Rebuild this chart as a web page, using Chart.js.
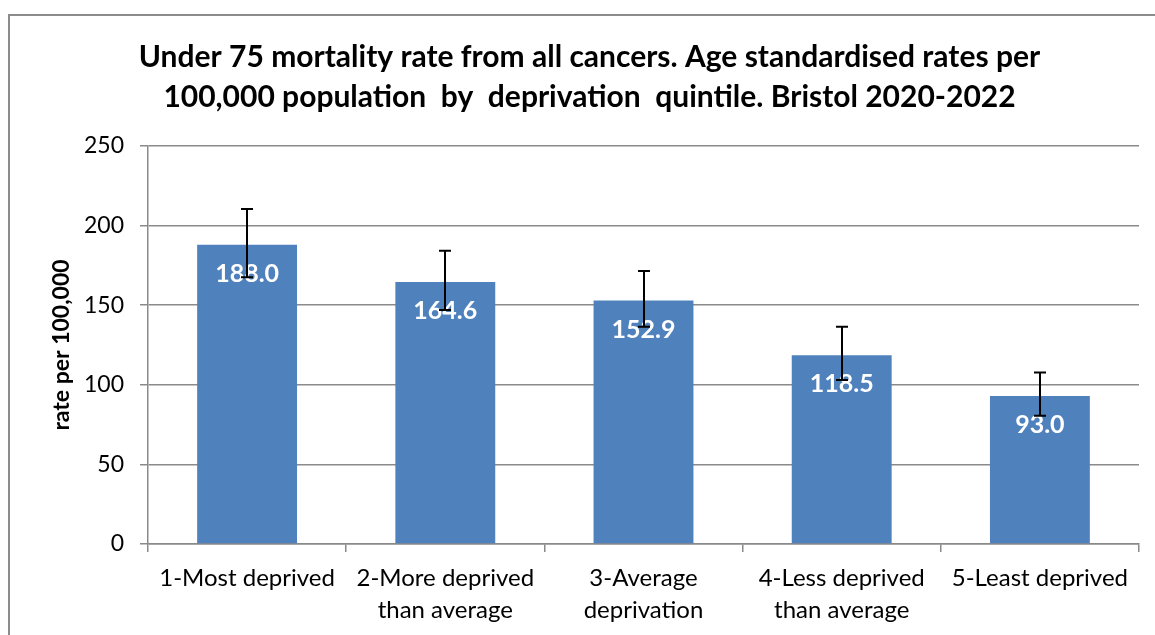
<!DOCTYPE html>
<html>
<head>
<meta charset="utf-8">
<script src="https://cdn.jsdelivr.net/npm/chart.js@4"></script>
<style>
  html, body { margin: 0; padding: 0; background: #fff; }
  #wrap { width: 1155px; height: 635px; position: relative; }
</style>
</head>
<body>
<div id="wrap"><canvas id="cancer-rate"></canvas></div>
<script>
const quintiles = [
  ['1-Most deprived'],
  ['2-More deprived', 'than average'],
  ['3-Average', 'deprivation'],
  ['4-Less deprived', 'than average'],
  ['5-Least deprived']
];
const rates = [188.0, 164.6, 152.9, 118.5, 93.0];
const upperCI = [210.4, 184.2, 171.5, 136.5, 107.8];
const lowerCI = [167.5, 147.0, 136.5, 103.0, 80.6];
const yTicks = [0, 50, 100, 150, 200, 250];

const FONT = 'Lato, "Open Sans", sans-serif';
const gridColor = '#8a8a8a';

// outer frame like the excel chart border
const frame = {
  id: 'frame',
  beforeDraw(chart) {
    const ctx = chart.ctx;
    ctx.save();
    ctx.fillStyle = '#fff';
    ctx.fillRect(0, 0, chart.width, chart.height);
    ctx.strokeStyle = '#8c8c8c';
    ctx.lineWidth = 2;
    ctx.strokeRect(9, 15, chart.width + 20, chart.height + 20);
    ctx.restore();
  }
};

// value labels inside bars + error bars on top
const barExtras = {
  id: 'barExtras',
  afterDatasetsDraw(chart) {
    const ctx = chart.ctx;
    const x = chart.scales.x;
    const y = chart.scales.y;
    ctx.save();
    ctx.fillStyle = '#ffffff';
    ctx.font = 'bold 25px ' + FONT;
    ctx.textAlign = 'center';
    ctx.textBaseline = 'middle';
    rates.forEach((v, i) => {
      ctx.fillText(v.toFixed(1), x.getPixelForValue(i), y.getPixelForValue(v) + 29);
    });
    ctx.strokeStyle = '#000';
    ctx.lineWidth = 2;
    rates.forEach((v, i) => {
      const cx = Math.round(x.getPixelForValue(i));
      const yt = y.getPixelForValue(upperCI[i]);
      const yb = y.getPixelForValue(lowerCI[i]);
      ctx.beginPath();
      ctx.moveTo(cx, yt);
      ctx.lineTo(cx, yb);
      ctx.moveTo(cx - 6, yt);
      ctx.lineTo(cx + 6, yt);
      ctx.moveTo(cx - 6, yb);
      ctx.lineTo(cx + 6, yb);
      ctx.stroke();
    });
    ctx.restore();
  }
};

new Chart(document.getElementById('cancer-rate'), {
  type: 'bar',
  data: {
    labels: quintiles,
    datasets: [
      {
        label: 'rate',
        data: rates,
        backgroundColor: '#4F81BD',
        borderWidth: 0,
        categoryPercentage: 1,
        barPercentage: 0.504
      }
    ]
  },
  options: {
    responsive: true,
    maintainAspectRatio: false,
    animation: false,
    layout: {
      padding: { left: 40, right: 16, top: 0, bottom: 0 }
    },
    scales: {
      y: {
        min: 0,
        max: 250,
        afterFit(scale) {
          scale.width = 108;
        },
        afterBuildTicks(scale) {
          scale.ticks = yTicks.map(v => ({ value: v }));
        },
        border: { color: gridColor, width: 1.5 },
        grid: {
          color: gridColor,
          lineWidth: 1.5,
          tickLength: 8
        },
        ticks: {
          padding: 16,
          color: '#000',
          font: { size: 23, family: FONT }
        },
        title: {
          display: true,
          text: 'rate per 100,000',
          color: '#000',
          padding: { top: 8, bottom: 0 },
          font: { size: 23, weight: 'bold', family: FONT }
        }
      },
      x: {
        afterFit(scale) {
          scale.height = 91;
        },
        border: { color: gridColor, width: 1.5 },
        grid: {
          display: true,
          drawOnChartArea: false,
          color: gridColor,
          lineWidth: 1.5,
          tickLength: 8,
          offset: true
        },
        ticks: {
          padding: 10,
          color: '#000',
          maxRotation: 0,
          autoSkip: false,
          font: { size: 24, family: FONT, lineHeight: 32 / 24 }
        }
      }
    },
    plugins: {
      legend: { display: false },
      tooltip: { enabled: false },
      title: {
        display: true,
        text: [
          'Under 75 mortality rate from all cancers. Age standardised rates per',
          '100,000 population  by  deprivation  quintile. Bristol 2020-2022'
        ],
        color: '#000',
        padding: { top: 37, bottom: 29 },
        font: { size: 30, weight: 'bold', family: FONT, lineHeight: 40 / 30 }
      }
    }
  },
  plugins: [frame, barExtras]
});
</script>
</body>
</html>
